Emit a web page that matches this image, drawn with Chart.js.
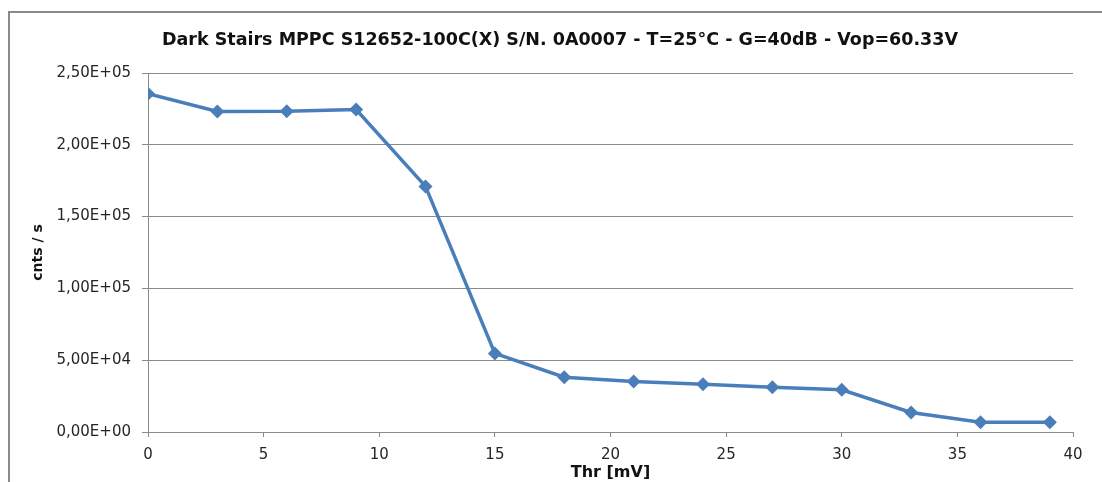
<!DOCTYPE html>
<html>
<head>
<meta charset="utf-8">
<script src="https://cdn.jsdelivr.net/npm/chart.js@4/dist/chart.umd.min.js"></script>
<style>
  html, body { margin: 0; padding: 0; background: #fff; overflow: hidden; }
  #wrap { position: relative; width: 1102px; height: 482px; }
  #frame { position: absolute; left: 8px; top: 11px; width: 1200px; height: 600px;
           border: 2px solid #8a8a8a; box-sizing: border-box; pointer-events: none; }
  canvas { position: absolute; left: 0; top: 0; }
</style>
</head>
<body>
<div id="wrap">
  <canvas id="c" width="1102" height="482"></canvas>
  <div id="frame"></div>
</div>
<script>
// ---- data ----
const thresholds = [0, 3, 6, 9, 12, 15, 18, 21, 24, 27, 30, 33, 36, 39];           // Thr [mV]
const darkRates  = [235600, 223200, 223300, 224500, 171000, 54700, 38200, 35200,
                    33300, 31200, 29400, 13600, 6800, 6800];                          // cnts / s
const xTicks = [0, 5, 10, 15, 20, 25, 30, 35, 40];
const yTicks = [0, 50000, 100000, 150000, 200000, 250000];
const titleText = 'Dark Stairs MPPC S12652-100C(X) S/N. 0A0007 - T=25°C - G=40dB - Vop=60.33V';
const xTitle = 'Thr [mV]';
const yTitle = 'cnts / s';

function sci(v) {
  if (v === 0) return '0,00E+00';
  const e = Math.floor(Math.log10(Math.abs(v)));
  const m = (v / Math.pow(10, e)).toFixed(2).replace('.', ',');
  const es = (e < 0 ? '-' : '+') + String(Math.abs(e)).padStart(2, '0');
  return m + 'E' + es;
}

const FONT = "'DejaVu Sans', 'Liberation Sans', sans-serif";
const gridCol = '#8a8a8a';
const lineCol = '#4a7ebb';

new Chart(document.getElementById('c'), {
  type: 'scatter',
  data: {
    datasets: [{
      data: thresholds.map((t, i) => ({ x: t, y: darkRates[i] })),
      showLine: true,
      borderColor: lineCol,
      backgroundColor: lineCol,
      borderWidth: 3.5,
      pointStyle: 'rectRot',
      pointRadius: 7,
      pointBorderWidth: 0,
      tension: 0
    }]
  },
  options: {
    responsive: false,
    animation: false,
    layout: { padding: { left: 18, right: 0, top: 0, bottom: 0 } },
    plugins: {
      legend: { display: false },
      tooltip: { enabled: false },
      title: {
        display: true,
        text: titleText,
        color: '#111',
        font: { family: FONT, size: 17.5, weight: 'bold', lineHeight: 1.2 },
        padding: { top: 30, bottom: 22 }
      }
    },
    scales: {
      x: {
        type: 'linear',
        min: 0, max: 40,
        afterBuildTicks: s => { s.ticks = xTicks.map(v => ({ value: v })); },
        afterFit: s => { s.height = 50; },
        ticks: { color: '#262626', font: { family: FONT, size: 15 }, padding: 9, maxRotation: 0 },
        grid: { drawOnChartArea: false, drawTicks: true, tickLength: 5, color: gridCol },
        border: { color: gridCol, width: 1 },
        title: {
          display: true, text: xTitle, color: '#111',
          font: { family: FONT, size: 16, weight: 'bold', lineHeight: 1.2 },
          padding: { top: -2, bottom: 0 }
        }
      },
      y: {
        min: 0, max: 250000,
        afterBuildTicks: s => { s.ticks = yTicks.map(v => ({ value: v })); },
        afterFit: s => { s.width = 130; },
        ticks: { color: '#262626', font: { family: FONT, size: 15 }, padding: 11, callback: v => sci(v) },
        grid: { color: gridCol, lineWidth: 1, tickLength: 6 },
        border: { color: gridCol, width: 1 },
        title: {
          display: true, text: yTitle, color: '#111',
          font: { family: FONT, size: 14, weight: 'bold', lineHeight: 1.2 },
          padding: { top: 12, bottom: 0 }
        }
      },
      yRight: {
        position: 'right',
        min: 0, max: 250000,
        afterFit: s => { s.width = 29; },
        ticks: { display: false },
        grid: { drawOnChartArea: false, drawTicks: false },
        border: { display: false }
      }
    }
  }
});
</script>
</body>
</html>
